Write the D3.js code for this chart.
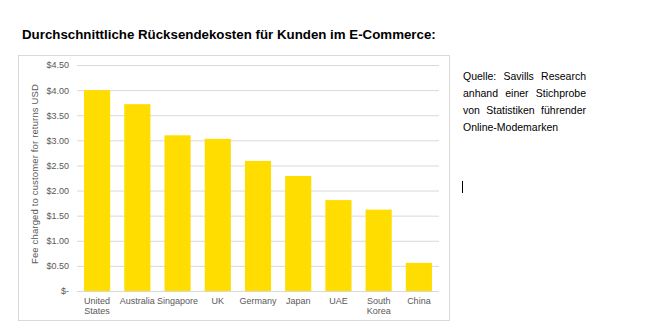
<!DOCTYPE html>
<html>
<head>
<meta charset="utf-8">
<script src="https://cdn.jsdelivr.net/npm/d3@7"></script>
<style>
  html, body { margin: 0; padding: 0; background: #fff; }
  #wrap { position: relative; width: 667px; height: 336px; overflow: hidden; }
  svg { position: absolute; left: 0; top: 0; }
  #source {
    position: absolute; left: 463px; top: 68px; width: 123px;
    font-family: "Liberation Sans", Arial, sans-serif; font-size: 10.5px;
    line-height: 17px; color: #000; text-align: justify;
  }
</style>
</head>
<body>
<div id="wrap">
  <svg id="chart" width="667" height="336"></svg>
  <div id="source"></div>
</div>
<script>
// Average return fee charged to customers, by market (USD)
const countries = ["United States", "Australia", "Singapore", "UK", "Germany", "Japan", "UAE", "South Korea", "China"];
const fees = [4.00, 3.72, 3.10, 3.03, 2.59, 2.29, 1.81, 1.62, 0.56];
const tickValues = [0, 0.5, 1, 1.5, 2, 2.5, 3, 3.5, 4, 4.5];
const tickLabels = ["$-", "$0.50", "$1.00", "$1.50", "$2.00", "$2.50", "$3.00", "$3.50", "$4.00", "$4.50"];
const titleText = "Durchschnittliche Rücksendekosten für Kunden im E-Commerce:";
const yTitle = "Fee charged to customer for returns USD";
const sourceText = "Quelle: Savills Research anhand einer Stichprobe von Statistiken führender Online-Modemarken";

const svg = d3.select("#chart");
const font = "'Liberation Sans', Arial, sans-serif";

// Title
svg.append("text")
  .attr("x", 22).attr("y", 39)
  .attr("font-family", font).attr("font-size", 13.3).attr("font-weight", "bold")
  .attr("fill", "#000")
  .text(titleText);

// Chart frame
svg.append("rect")
  .attr("x", 18.5).attr("y", 55.5).attr("width", 431).attr("height", 265)
  .attr("fill", "#fff").attr("stroke", "#d9d9d9").attr("stroke-width", 1);

const plot = { left: 77, right: 439, top: 65, bottom: 291 };

const x = d3.scaleBand().domain(countries).range([plot.left, plot.right]).paddingInner(0.35).paddingOuter(0.175);
const y = d3.scaleLinear().domain([0, 4.5]).range([plot.bottom, plot.top]);

// Gridlines + y labels
const yAxis = d3.axisLeft(y).tickValues(tickValues)
  .tickSize(-(plot.right - plot.left))
  .tickPadding(8)
  .tickFormat((d, i) => tickLabels[i]);

const gy = svg.append("g").attr("transform", `translate(${plot.left},0)`).call(yAxis);
gy.select(".domain").remove();
gy.selectAll(".tick line").attr("stroke", "#d9d9d9").attr("stroke-width", 1);
gy.selectAll(".tick text").attr("font-family", font).attr("font-size", 9).attr("fill", "#595959");

// Bars
svg.append("g").selectAll("rect").data(countries).join("rect")
  .attr("x", d => x(d))
  .attr("y", (d, i) => y(fees[i]))
  .attr("width", x.bandwidth())
  .attr("height", (d, i) => y(0) - y(fees[i]))
  .attr("fill", "#ffdd00");

// Baseline
svg.append("line")
  .attr("x1", plot.left).attr("x2", plot.right)
  .attr("y1", y(0) + 0.5).attr("y2", y(0) + 0.5)
  .attr("stroke", "#d9d9d9");

// Category labels (wrapped onto two lines where needed)
const gx = svg.append("g");
countries.forEach(c => {
  const words = c.split(" ");
  const t = gx.append("text")
    .attr("x", x(c) + x.bandwidth() / 2).attr("y", 304)
    .attr("text-anchor", "middle")
    .attr("font-family", font).attr("font-size", 9).attr("fill", "#595959");
  words.forEach((w, i) => {
    t.append("tspan").attr("x", x(c) + x.bandwidth() / 2).attr("dy", i === 0 ? 0 : 10).text(w);
  });
});

// Y axis title
svg.append("text")
  .attr("transform", `translate(38,174) rotate(-90)`)
  .attr("text-anchor", "middle")
  .attr("font-family", font).attr("font-size", 9.5).attr("fill", "#595959")
  .attr("letter-spacing", 0.15)
  .text(yTitle);

// Source note
d3.select("#source").text(sourceText);

// Text cursor mark
svg.append("line")
  .attr("x1", 462.5).attr("x2", 462.5).attr("y1", 181).attr("y2", 193)
  .attr("stroke", "#000").attr("stroke-width", 1);
</script>
</body>
</html>
